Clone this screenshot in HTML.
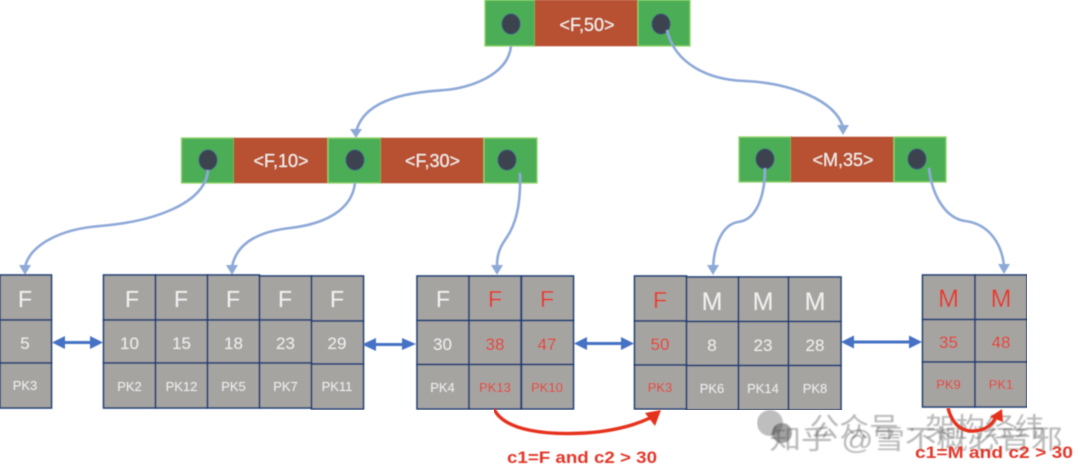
<!DOCTYPE html>
<html><head><meta charset="utf-8"><style>
html,body{margin:0;padding:0;background:#fff}
svg{display:block}
text{font-family:"Liberation Sans","Noto Sans CJK SC",sans-serif;text-anchor:middle}
.g{fill:#4cad55;stroke:#90d46c;stroke-width:1.3}
.b{fill:#b85131;stroke:#b85131;stroke-width:.5}
.d{fill:#3e4250;stroke:#3d5580;stroke-width:1}
.n{fill:#f6f0ea;font-size:18px}
.c{fill:#a6a4a1;stroke:#1f3f75;stroke-width:1.6}
.F{font-size:23px;fill:#f1f1f1}
.M{font-size:25px}
.V{font-size:17px;fill:#eee}
.P{font-size:13px;fill:#eee}
.r{fill:#e2382a}
.l{fill:none;stroke:#8ea9d8;stroke-width:2.6}
.a{fill:none;stroke:#4472c4;stroke-width:3}
.h{fill:#4472c4}
.rl{fill:none;stroke:#e5301f;stroke-width:3.4}
.lab{font-weight:bold;font-size:17px;fill:#e2382a}
.w{fill:#555;opacity:.42}
</style></head><body>
<svg width="1080" height="470" viewBox="0 0 1080 470" xmlns="http://www.w3.org/2000/svg">
<defs>
<filter id="bl" x="0" y="0" width="100%" height="100%"><feGaussianBlur stdDeviation="0.55"/></filter>
<filter id="bw" x="0" y="0" width="100%" height="100%"><feGaussianBlur stdDeviation="0.9"/></filter>
</defs>
<g filter="url(#bl)">

<!-- top node -->
<rect class="g" x="485" y="0" width="50" height="46"/><rect class="b" x="535" y="0" width="103" height="46"/><rect class="g" x="638" y="0" width="52" height="46"/>
<ellipse class="d" cx="511" cy="24" rx="9" ry="10"/><ellipse class="d" cx="661" cy="24" rx="9" ry="10"/>
<text class="n" x="587" y="31">&lt;F,50&gt;</text>

<!-- second row left -->
<rect class="g" x="181.500" y="138" width="52.500" height="45"/><rect class="b" x="234" y="138" width="94" height="45"/><rect class="g" x="328" y="138" width="53" height="45"/><rect class="b" x="381" y="138" width="103" height="45"/><rect class="g" x="484" y="138" width="53" height="45"/>
<ellipse class="d" cx="208" cy="160" rx="9" ry="10"/><ellipse class="d" cx="355" cy="160" rx="9" ry="10"/><ellipse class="d" cx="507" cy="160" rx="9" ry="10"/>
<text class="n" x="281" y="167">&lt;F,10&gt;</text><text class="n" x="432.500" y="167">&lt;F,30&gt;</text>

<!-- second row right -->
<rect class="g" x="739" y="137" width="52" height="45"/><rect class="b" x="791" y="137" width="103" height="45"/><rect class="g" x="894" y="137" width="52" height="45"/>
<ellipse class="d" cx="765" cy="159" rx="9" ry="10"/><ellipse class="d" cx="917" cy="159" rx="9" ry="10"/>
<text class="n" x="843" y="166">&lt;M,35&gt;</text>

<!-- connectors -->
<path class="l" d="M511 46C508 75 470 88 445 90C420 92 365 95 356 132"/><path fill="#8ea9d8" d="M350 129L362 129L356 138Z"/>
<path class="l" d="M667 30C675 65 710 80 745 81C790 83 835 100 843 127"/><path fill="#8ea9d8" d="M837 125L849 125L843 135Z"/>
<path class="l" d="M208 170C205 205 150 222 100 226C60 229 30 245 25 267"/><path fill="#8ea9d8" d="M19 265L31 265L25 275Z"/>
<path class="l" d="M355 183C352 210 325 224 290 228C255 232 236 245 232 267"/><path fill="#8ea9d8" d="M226 265L238 265L232 275Z"/>
<path class="l" d="M520 173C521 205 516 225 505 240C498 250 497 258 497 267"/><path fill="#8ea9d8" d="M491 265L503 265L497 275Z"/>
<path class="l" d="M765 168C765 195 757 220 738 222C720 225 714 250 713 267"/><path fill="#8ea9d8" d="M707 265L719 265L713 275Z"/>
<path class="l" d="M929 168C932 195 945 218 965 221C990 224 1002 245 1004 266"/><path fill="#8ea9d8" d="M998 264L1010 264L1004 274Z"/>

<!-- leaf 1 -->
<rect class="c" x="0" y="275" width="51.500" height="45"/><rect class="c" x="0" y="320" width="51.500" height="43"/><rect class="c" x="0" y="363" width="51.500" height="45"/>
<text class="F" x="25" y="307">F</text><text class="V" x="25" y="349">5</text><text class="P" x="25" y="390">PK3</text>

<!-- leaf 2 -->
<rect class="c" x="103.500" y="275" width="52" height="45"/><rect class="c" x="155.500" y="275" width="52" height="45"/><rect class="c" x="207.500" y="275" width="52" height="45"/><rect class="c" x="259.500" y="276" width="52" height="44"/><rect class="c" x="311.500" y="276" width="52" height="45"/>
<rect class="c" x="103.500" y="320" width="52" height="43"/><rect class="c" x="155.500" y="320" width="52" height="43"/><rect class="c" x="207.500" y="320" width="52" height="43"/><rect class="c" x="259.500" y="320" width="52" height="43"/><rect class="c" x="311.500" y="321" width="52" height="43"/>
<rect class="c" x="103.500" y="363" width="52" height="45"/><rect class="c" x="155.500" y="363" width="52" height="45"/><rect class="c" x="207.500" y="363" width="52" height="45"/><rect class="c" x="259.500" y="363" width="52" height="45"/><rect class="c" x="311.500" y="364" width="52" height="45"/>
<text class="F" x="132" y="307">F</text><text class="F" x="181" y="307">F</text><text class="F" x="233" y="307">F</text><text class="F" x="285" y="307">F</text><text class="F" x="337" y="307">F</text>
<text class="V" x="129.500" y="349">10</text><text class="V" x="181.500" y="349">15</text><text class="V" x="233.500" y="349">18</text><text class="V" x="285.500" y="349">23</text><text class="V" x="337" y="349">29</text>
<text class="P" x="129.500" y="391">PK2</text><text class="P" x="181.500" y="391">PK12</text><text class="P" x="233.500" y="391">PK5</text><text class="P" x="285.500" y="391">PK7</text><text class="P" x="337" y="391">PK11</text>

<!-- leaf 3 -->
<rect class="c" x="417" y="276" width="52" height="44.500"/><rect class="c" x="469" y="276" width="52" height="44.500"/><rect class="c" x="521.500" y="276" width="52" height="44.500"/>
<rect class="c" x="417" y="320.500" width="52" height="44"/><rect class="c" x="469" y="320.500" width="52" height="44"/><rect class="c" x="521.500" y="320.500" width="52" height="44"/>
<rect class="c" x="417" y="364.500" width="52" height="44.500"/><rect class="c" x="469" y="364.500" width="52" height="44.500"/><rect class="c" x="521.500" y="364.500" width="52" height="44.500"/>
<text class="F" x="443" y="307">F</text><text class="F r" x="495" y="307">F</text><text class="F r" x="547" y="307">F</text>
<text class="V" x="442.500" y="350">30</text><text class="V r" x="495" y="350">38</text><text class="V r" x="547" y="350">47</text>
<text class="P" x="442.500" y="392">PK4</text><text class="P r" x="495" y="392">PK13</text><text class="P r" x="547" y="392">PK10</text>

<!-- leaf 4 -->
<rect class="c" x="634.500" y="276" width="52" height="45"/><rect class="c" x="686.500" y="277" width="52" height="44.500"/><rect class="c" x="738.500" y="277" width="50" height="44.500"/><rect class="c" x="788.500" y="277" width="52.500" height="44.500"/>
<rect class="c" x="634.500" y="321" width="52" height="44"/><rect class="c" x="686.500" y="321.500" width="52" height="44"/><rect class="c" x="738.500" y="321.500" width="50" height="44"/><rect class="c" x="788.500" y="321.500" width="52.500" height="44"/>
<rect class="c" x="634.500" y="365" width="52" height="44"/><rect class="c" x="686.500" y="365.500" width="52" height="44.500"/><rect class="c" x="738.500" y="365.500" width="50" height="44.500"/><rect class="c" x="788.500" y="365.500" width="52.500" height="44.500"/>
<text class="F r" x="660" y="308">F</text><text class="F M" x="712" y="310">M</text><text class="F M" x="763" y="310">M</text><text class="F M" x="815" y="310">M</text>
<text class="V r" x="660" y="350">50</text><text class="V" x="712" y="351">8</text><text class="V" x="763" y="351">23</text><text class="V" x="815" y="351">28</text>
<text class="P r" x="660" y="392">PK3</text><text class="P" x="712" y="393">PK6</text><text class="P" x="763" y="393">PK14</text><text class="P" x="815" y="393">PK8</text>

<!-- leaf 5 -->
<rect class="c" x="922.500" y="275" width="52.500" height="44.500"/><rect class="c" x="975" y="275" width="52" height="44.500"/>
<rect class="c" x="922.500" y="319.500" width="52.500" height="42.500"/><rect class="c" x="975" y="319.500" width="52" height="42.500"/>
<rect class="c" x="922.500" y="362" width="52.500" height="45"/><rect class="c" x="975" y="362" width="52" height="45"/>
<text class="F M r" x="948.500" y="307">M</text><text class="F M r" x="1001" y="307">M</text>
<text class="V r" x="948.500" y="348">35</text><text class="V r" x="1001" y="348">48</text>
<text class="P r" x="948.500" y="389">PK9</text><text class="P r" x="1001" y="389">PK1</text>

<!-- double arrows -->
<path class="a" d="M62 342.500H92"/><path class="h" d="M52 342.500L65 336V349ZM103 342.500L90 336V349Z"/>
<path class="a" d="M373 344.500H406"/><path class="h" d="M362 344.500L376 338V351ZM416 344L402 338V350Z"/>
<path class="a" d="M584 343.500H624"/><path class="h" d="M574 343.500L587 337V350ZM634 343.500L621 337V350Z"/>
<path class="a" d="M851 342H912"/><path class="h" d="M841 342L854 335.500V348.500ZM922 342L909 335.500V348.500Z"/>
</g>

<!-- watermark -->
<g filter="url(#bw)">
<circle cx="770" cy="423" r="13" fill="#888" opacity=".55"/>
<circle cx="782" cy="433" r="10" fill="#555" opacity=".55"/>
<text class="w" x="927" y="437" style="font-size:27px" textLength="235" lengthAdjust="spacingAndGlyphs">公众号 · 架构经纬</text>
<text class="w" x="916" y="449" style="font-size:27px" textLength="293" lengthAdjust="spacingAndGlyphs">知乎 @雪不概必音邪</text>
</g>

<!-- red arrows and labels -->
<g filter="url(#bl)">
<path class="rl" d="M494 409C505 432 550 435 585 433C615 431 635 425 650 418"/><path fill="#e5301f" d="M661 410L655 426L645 413Z"/>
<path class="rl" d="M948 408C952 424 962 432 974 431C986 430 992 425 996 417"/><path fill="#e5301f" d="M1002 409L1003 422L990 417Z"/>
<text class="lab" x="582" y="463" textLength="150" lengthAdjust="spacingAndGlyphs">c1=F and c2 &gt; 30</text>
<text class="lab" x="994" y="458" textLength="158" lengthAdjust="spacingAndGlyphs">c1=M and c2 &gt; 30</text>
</g>
</svg>
</body></html>
